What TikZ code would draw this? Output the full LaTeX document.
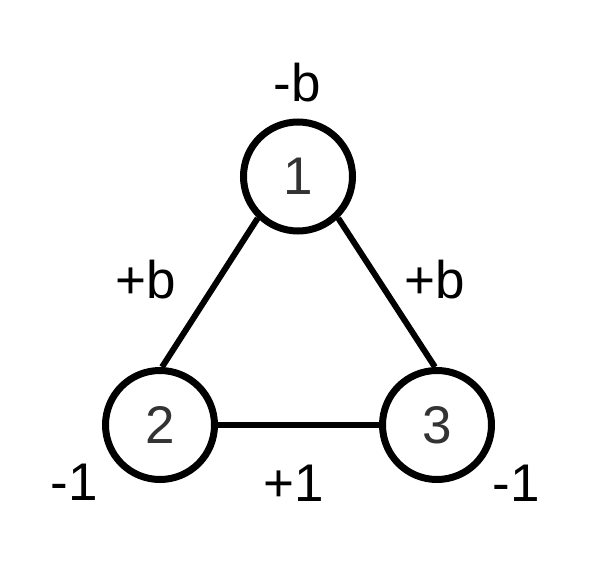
\documentclass[tikz,border=0pt]{standalone}
\usepackage{fontspec}
\setmainfont{Liberation Sans}
\begin{document}
\begin{tikzpicture}[x=1pt,y=-1pt,
  vert/.style={circle,draw=black,line width=7pt,minimum size=109pt,inner sep=0pt,
    text=black!80,font=\fontsize{53}{53}\selectfont},
  lbl/.style={anchor=base,inner sep=0pt,font=\fontsize{53}{53}\selectfont},
  edgeline/.style={line width=6pt}]
\useasboundingbox (0,0) rectangle (598,562);
\node[vert] (n1) at (298,176.5) {\raisebox{-1.5pt}{1}};
\node[vert] (n2) at (160,425) {\raisebox{-1.5pt}{2}};
\node[vert] (n3) at (437,425) {\raisebox{-1.5pt}{3}};
\draw[edgeline] (n1.226) -- (n2.88);
\draw[edgeline] (n1.-46) -- (n3.92);
\draw[edgeline] (n2) -- (n3);
\node[lbl] (l1) at (297,101) {-b};
\node[lbl] (l2) at (146,298) {+b};
\node[lbl] (l3) at (435,298) {+b};
\node[lbl] (l4) at (74,500) {-1};
\node[lbl] (l5) at (294,501) {+1};
\node[lbl] (l6) at (516,501) {-1};
\end{tikzpicture}
\end{document}
